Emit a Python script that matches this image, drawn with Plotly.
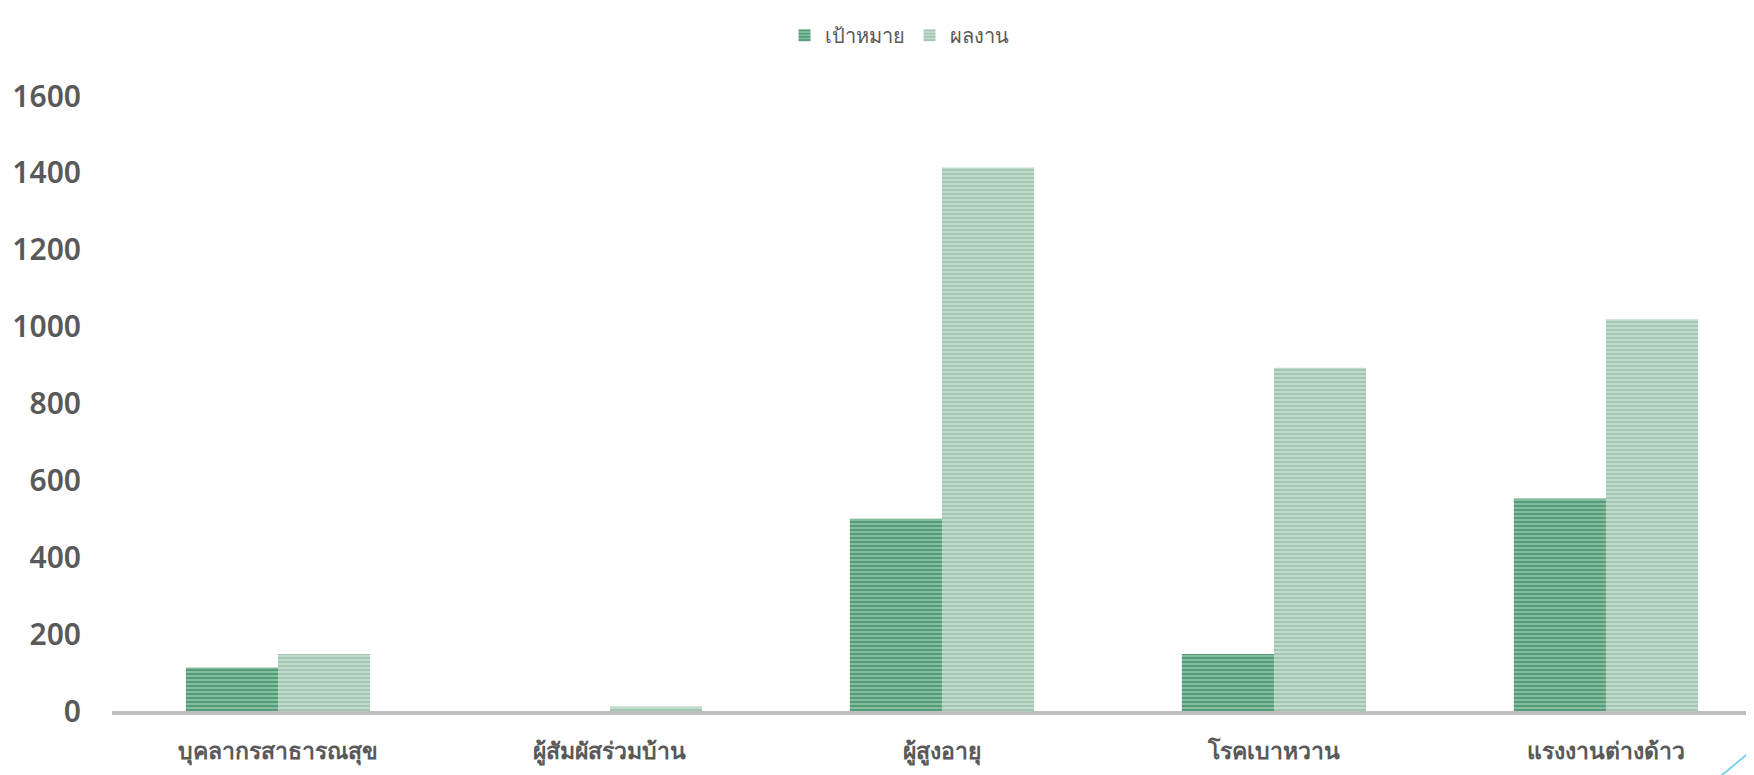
import plotly.graph_objects as go

categories = ["บุคลากรสาธารณสุข", "ผู้สัมผัสร่วมบ้าน", "ผู้สูงอายุ", "โรคเบาหวาน", "แรงงานต่างด้าว"]
target = [113, 0, 500, 148, 553]
result = [148, 12, 1414, 893, 1019]
series_names = ["เป้าหมาย", "ผลงาน"]
y_ticks = [0, 200, 400, 600, 800, 1000, 1200, 1400, 1600]

fig = go.Figure()
fig.add_trace(go.Bar(
    x=categories, y=target, name=series_names[0],
    marker=dict(color="#98c9ae", line=dict(width=0),
                pattern=dict(shape="-", fgcolor="#0f6d42", bgcolor="#98c9ae",
                             size=4, solidity=0.65, fillmode="overlay")),
))
fig.add_trace(go.Bar(
    x=categories, y=result, name=series_names[1],
    marker=dict(color="#cfe3d7", line=dict(width=0),
                pattern=dict(shape="-", fgcolor="#76aa8d", bgcolor="#cfe3d7",
                             size=4, solidity=0.65, fillmode="overlay")),
))

fig.update_layout(
    width=1754, height=775,
    margin=dict(l=104, r=0, t=88, b=72),
    paper_bgcolor="white", plot_bgcolor="white",
    barmode="group", bargap=0.445, bargroupgap=0,
    font=dict(family="Noto Sans, Open Sans, sans-serif", color="#595959"),
    showlegend=True,
    legend=dict(orientation="h", x=0.508, xref="container", xanchor="center",
                y=0.99, yref="container", yanchor="top",
                font=dict(size=20, color="#595959"),
                itemwidth=30, traceorder="normal"),
    xaxis=dict(range=[-0.5, 4.47], showgrid=False, showline=True,
               linecolor="#bfbfbf", linewidth=4, ticks="",
               ticklabelstandoff=16,
               tickfont=dict(size=23, color="#595959", weight=600)),
    yaxis=dict(range=[0, 1600], tickvals=y_ticks, showgrid=False,
               zeroline=False, showline=False, ticks="",
               ticklabelstandoff=30,
               tickfont=dict(size=30, color="#595959", weight=600)),
    shapes=[dict(type="line", xref="paper", yref="paper",
                 x0=(1706 - 104) / 1650, y0=-0.115, x1=1.0, y1=-0.05,
                 line=dict(color="#7fd3ec", width=2))],
)

fig.write_html("out.html")
